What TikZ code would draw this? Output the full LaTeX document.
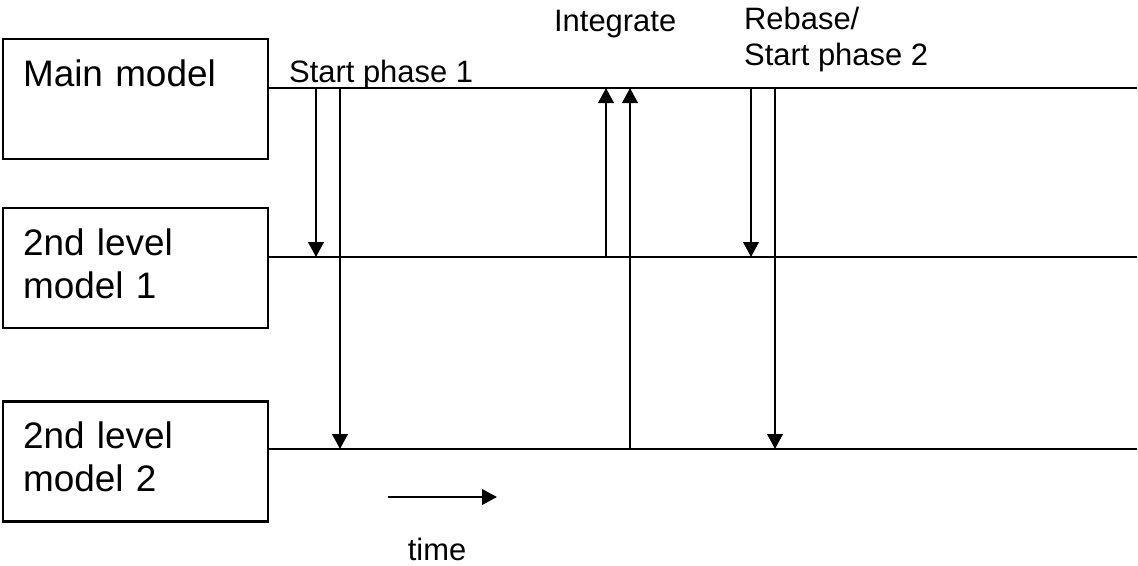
\documentclass[tikz,border=0pt]{standalone}
\usepackage{fontspec}
\setmainfont{Liberation Sans}
\usetikzlibrary{arrows.meta}
\tikzset{every picture/.append style={line width=1.3pt}}
\tikzset{modelbox/.style={draw, minimum width=5.3cm, minimum height=2.4cm,
    text width=4.5cm, inner xsep=0.4cm, align=left,
    font=\fontsize{21}{24.5}\selectfont,
    execute at begin node=\strut, execute at end node=\strut}}
\tikzset{flow/.style={-{Triangle[length=3mm,width=3.1mm]}}}
\tikzset{lbl/.style={inner sep=0pt, font=\fontsize{17.6}{20.5}\selectfont}}

\begin{document}
\begin{tikzpicture}[x=0.02cm,y=-0.02cm]
  \useasboundingbox (0,0) rectangle (1138,565);
  \node[modelbox] (main) at (135.5,99) {Main model\\};
  \node[modelbox] (sub1) at (135.5,268) {2nd level\\model 1};
  \node[modelbox] (sub2) at (135.5,461.5) {2nd level\\model 2};
  % time lines
  \coordinate (t0) at (1137,88);
  \coordinate (t1) at (1137,257);
  \coordinate (t2) at (1137,449);
  \draw (main.east |- t0) -- (t0);
  \draw (sub1.east |- t1) -- (t1);
  \draw (sub2.east |- t2) -- (t2);
  % arrow columns
  \coordinate (a1) at (316,0);
  \coordinate (a2) at (340,0);
  \coordinate (a3) at (606,0);
  \coordinate (a4) at (630,0);
  \coordinate (a5) at (751,0);
  \coordinate (a6) at (775,0);
  \draw[flow] (a1 |- t0) -- (a1 |- t1);
  \draw[flow] (a2 |- t0) -- (a2 |- t2);
  \draw[flow] (a3 |- t1) -- (a3 |- t0);
  \draw[flow] (a4 |- t2) -- (a4 |- t0);
  \draw[flow] (a5 |- t0) -- (a5 |- t1);
  \draw[flow] (a6 |- t0) -- (a6 |- t2);
  \node[lbl, anchor=base west] (start1) at (288,82) {Start phase 1};
  \node[lbl, anchor=base west] (integ) at (553,31) {Integrate};
  \node[lbl, anchor=north west, align=left, execute at begin node=\strut]
    (rebase) at (743,5.8) {Rebase/\\Start phase 2};
  % time arrow
  \coordinate (ts) at (388,497);
  \coordinate (te) at (497,497);
  \draw[flow] (ts) -- (te);
  \node[lbl] (timelbl) at (437,549) {time};
\end{tikzpicture}
\end{document}
